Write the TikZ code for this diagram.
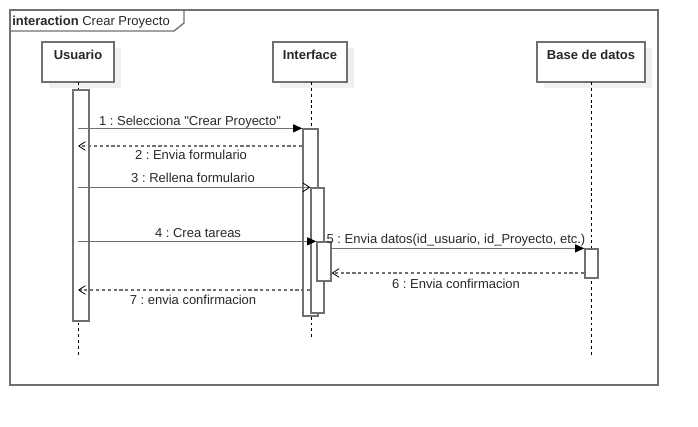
\documentclass[tikz,border=0pt]{standalone}
\usepackage{fontspec}
\setmainfont{Liberation Sans}[Ligatures=TeXOff]
\usetikzlibrary{arrows.meta,fit}
\definecolor{lc}{RGB}{112,112,112}
\definecolor{tc}{RGB}{40,40,40}
\frenchspacing
\begin{document}
\begin{tikzpicture}[x=0.75pt,y=-0.75pt,
  font=\fontsize{9.75}{11}\selectfont, text=tc,
  frame/.style={draw=lc, line width=1pt},
  lifebox/.style={draw=lc, line width=1pt, fill=white, inner sep=0pt},
  shadowbox/.style={fill=black!6, draw=none, inner sep=0pt},
  actbar/.style={draw=lc, line width=1pt, fill=white, inner sep=0pt},
  lifeline/.style={draw=black, line width=0.7pt, dash pattern=on 2.2pt off 2.2pt},
  syncmsg/.style={draw=lc, line width=0.9pt, -{Triangle[length=7pt,width=6pt,color=black]}},
  openmsg/.style={draw=lc, line width=0.9pt, -{Straight Barb[length=5pt,width=6.5pt,line width=0.6pt,color=black]}},
  retmsg/.style={draw=lc, line width=0.9pt, dash pattern=on 2.4pt off 2pt, -{Straight Barb[length=5pt,width=6.5pt,line width=0.6pt,color=black]}},
  lbl/.style={anchor=base, inner sep=0pt},
  title/.style={anchor=base, inner sep=0pt, font=\fontsize{9.75}{11}\selectfont\bfseries}
]
\useasboundingbox (0,0) rectangle (698,426);

% frame
\node[frame, inner sep=0pt, fit={(10,10)(658,385)}] (frm) {};
\draw[frame] (frm.north west |- 0,31) -- (174,31) -- (184,23) -- (184,10);
\node[anchor=base west, inner sep=0pt] (ftitle) at (12,25) {\textbf{interaction} Crear Proyecto};

% lifeline heads
\node[shadowbox, fit={(49,48)(121,88)}] (uS) {};
\node[shadowbox, fit={(280,48)(354,88)}] (iS) {};
\node[shadowbox, fit={(544,48)(652,88)}] (dS) {};
\node[lifebox, fit={(42,42)(114,82)}] (uB) {};
\node[lifebox, fit={(273,42)(347,82)}] (iB) {};
\node[lifebox, fit={(537,42)(645,82)}] (dB) {};
\node[title] (uT) at (78,59) {Usuario};
\node[title] (iT) at (310,59) {Interface};
\node[title] (dT) at (591,59) {Base de datos};

% lifelines
\coordinate (uL) at (78,82);
\coordinate (iL) at (311,82);
\coordinate (dL) at (591.5,82);
\coordinate (uE) at (78,355);
\coordinate (iE) at (311,337);
\coordinate (dE) at (591.5,355);
\draw[lifeline] (uL) -- (uE);
\draw[lifeline] (iL) -- (iE);
\draw[lifeline] (dL) -- (dE);

% activation bars
\node[actbar, fit={(73,90)(89,321)}] (uA) {};
\node[actbar, fit={(303,129)(318,316)}] (b1) {};
\node[actbar, fit={(311,188)(324,313)}] (b2) {};
\node[actbar, fit={(317,242)(331,281)}] (b3) {};
\node[actbar, fit={(585,249)(598,278)}] (dA) {};

% message levels
\coordinate (m2) at (0,146);
\coordinate (m6) at (0,273);
\coordinate (m7) at (0,290);

% messages
\draw[syncmsg] (uL |- b1.north west) -- (b1.north west);
\draw[retmsg] (b1.west |- m2) -- (uL |- m2);
\draw[openmsg] (uL |- b2.north west) -- (b2.north west);
\draw[syncmsg] (uL |- b3.north west) -- (b3.north west);
\draw[syncmsg] (b3.east |- dA.north west) -- (dA.north west);
\draw[retmsg] (dA.west |- m6) -- (b3.east |- m6);
\draw[retmsg] (b2.west |- m7) -- (uL |- m7);

% labels
\node[lbl] (l1) at (190,125) {1 : Selecciona "Crear Proyecto"};
\node[lbl] (l2) at (191,159) {2 : Envia formulario};
\node[lbl] (l3) at (193,182) {3 : Rellena formulario};
\node[lbl] (l4) at (198,237) {4 : Crea tareas};
\node[lbl] (l5) at (456,243) {5 : Envia datos(id\_usuario, id\_Proyecto, etc.)};
\node[lbl] (l6) at (456,288) {6 : Envia confirmacion};
\node[lbl] (l7) at (193,304) {7 : envia confirmacion};
\end{tikzpicture}
\end{document}
